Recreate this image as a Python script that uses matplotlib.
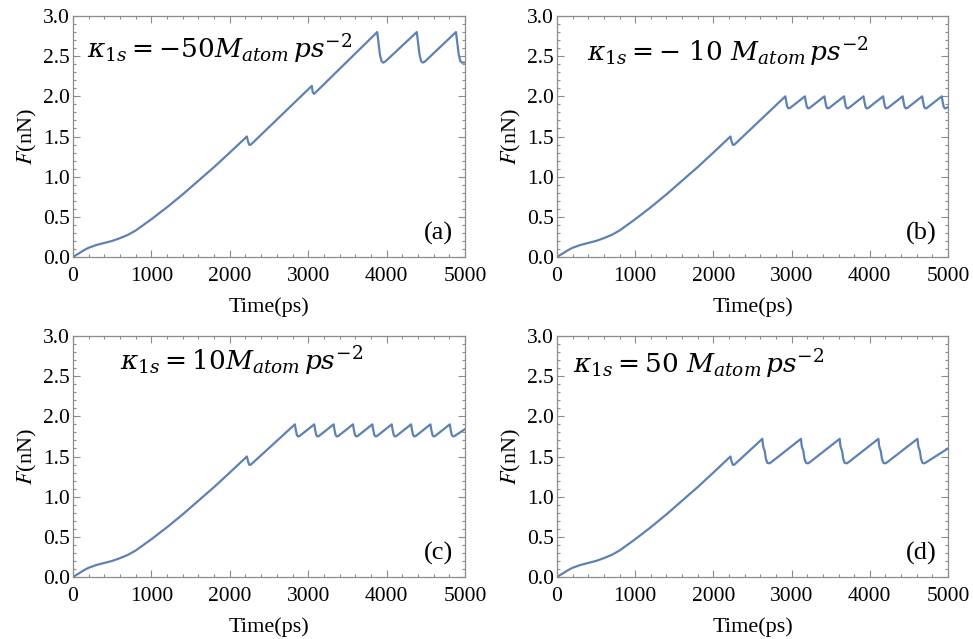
import matplotlib
matplotlib.use("Agg")
import matplotlib.pyplot as plt
from matplotlib.ticker import MultipleLocator

plt.rcParams["font.family"] = ["Liberation Serif", "DejaVu Serif"]
plt.rcParams["mathtext.fontset"] = "stix"

# Shared loading curve up to the first slip event (time in ps, force in nN)
base_t = [0, 50, 100, 150, 200, 300, 400, 500, 600, 700, 800, 900, 1000,
          1100, 1200, 1400, 1600, 1800, 2000, 2218]
base_F = [0.0, 0.03, 0.06, 0.09, 0.115, 0.15, 0.175, 0.20, 0.235, 0.275, 0.33,
          0.40, 0.47, 0.545, 0.62, 0.78, 0.95, 1.12, 1.30, 1.50]

# (a) kappa = -50
a_t = [2235, 2250, 2270, 3046, 3058, 3075, 3880, 3895, 3915, 3935, 3955, 3980,
       4385, 4400, 4420, 4440, 4460, 4485, 4885, 4900, 4920, 4940, 4960, 5000]
a_F = [1.43, 1.395, 1.40, 2.13, 2.05, 2.03, 2.80, 2.68, 2.52, 2.44, 2.42, 2.43,
       2.80, 2.68, 2.52, 2.44, 2.42, 2.43, 2.80, 2.68, 2.52, 2.44, 2.42, 2.42]

# (b) kappa = -10
b_t = [2235, 2250, 2270,
       2920, 2932, 2945, 2960, 2980, 3170, 3182, 3195, 3210, 3230,
       3420, 3432, 3445, 3460, 3480, 3670, 3682, 3695, 3710, 3730,
       3920, 3932, 3945, 3960, 3980, 4170, 4182, 4195, 4210, 4230,
       4420, 4432, 4445, 4460, 4480, 4670, 4682, 4695, 4710, 4730,
       4920, 4932, 4945, 4960, 4980, 5000]
b_F = [1.43, 1.395, 1.40,
       2.00, 1.93, 1.87, 1.85, 1.855, 2.00, 1.93, 1.87, 1.85, 1.855,
       2.00, 1.93, 1.87, 1.85, 1.855, 2.00, 1.93, 1.87, 1.85, 1.855,
       2.00, 1.93, 1.87, 1.85, 1.855, 2.00, 1.93, 1.87, 1.85, 1.855,
       2.00, 1.93, 1.87, 1.85, 1.855, 2.00, 1.93, 1.87, 1.85, 1.855,
       2.00, 1.93, 1.87, 1.85, 1.855, 1.865]

# (c) kappa = 10
c_t = [2235, 2250, 2270,
       2830, 2842, 2855, 2870, 2890, 3077, 3089, 3102, 3117, 3137,
       3324, 3336, 3349, 3364, 3384, 3571, 3583, 3596, 3611, 3631,
       3818, 3830, 3843, 3858, 3878, 4065, 4077, 4090, 4105, 4125,
       4312, 4324, 4337, 4352, 4372, 4559, 4571, 4584, 4599, 4619,
       4806, 4818, 4831, 4846, 4866, 5000]
c_F = [1.43, 1.395, 1.40,
       1.90, 1.83, 1.77, 1.75, 1.755, 1.90, 1.83, 1.77, 1.75, 1.755,
       1.90, 1.83, 1.77, 1.75, 1.755, 1.90, 1.83, 1.77, 1.75, 1.755,
       1.90, 1.83, 1.77, 1.75, 1.755, 1.90, 1.83, 1.77, 1.75, 1.755,
       1.90, 1.83, 1.77, 1.75, 1.755, 1.90, 1.83, 1.77, 1.75, 1.755,
       1.90, 1.83, 1.77, 1.75, 1.755, 1.84]

# (d) kappa = 50
d_t = [2235, 2250, 2270,
       2626, 2634, 2644, 2656, 2671, 2691, 2716, 2741,
       3120, 3128, 3138, 3150, 3165, 3185, 3210, 3235,
       3615, 3623, 3633, 3645, 3660, 3680, 3705, 3730,
       4110, 4118, 4128, 4140, 4155, 4175, 4200, 4225,
       4610, 4618, 4628, 4640, 4655, 4675, 4700, 4725, 5000]
d_F = [1.43, 1.395, 1.40,
       1.72, 1.64, 1.60, 1.57, 1.47, 1.42, 1.415, 1.43,
       1.72, 1.64, 1.60, 1.57, 1.47, 1.42, 1.415, 1.43,
       1.72, 1.64, 1.60, 1.57, 1.47, 1.42, 1.415, 1.43,
       1.72, 1.64, 1.60, 1.57, 1.47, 1.42, 1.415, 1.43,
       1.72, 1.64, 1.60, 1.57, 1.47, 1.42, 1.415, 1.43, 1.60]

panel_tags = ["(a)", "(b)", "(c)", "(d)"]
kappa_labels = [r"$\kappa_{1s}=-50M_{atom}\,ps^{-2}$",
                r"$\kappa_{1s}=-\ 10\ M_{atom}\,ps^{-2}$",
                r"$\kappa_{1s}=10M_{atom}\,ps^{-2}$",
                r"$\kappa_{1s}=50\ M_{atom}\,ps^{-2}$"]
kappa_pos = [(0.035, 0.826), (0.077, 0.81), (0.12, 0.859), (0.041, 0.846)]
series = [(a_t, a_F), (b_t, b_F), (c_t, c_F), (d_t, d_F)]

W, H = 973, 639
fig = plt.figure(figsize=(W / 100, H / 100), dpi=100)
boxes = [(73, 16, 392, 241), (557, 16, 391, 241),
         (73, 336, 392, 241), (557, 336, 391, 241)]

line_color = "#5E81B5"
frame_color = "#8c8c8c"

for i, (x0, y0, w, h) in enumerate(boxes):
    ax = fig.add_axes([x0 / W, 1 - (y0 + h) / H, w / W, h / H])
    t = base_t + series[i][0]
    F = base_F + series[i][1]
    ax.plot(t, F, color=line_color, lw=1.6, solid_joinstyle="round")
    ax.set_xlim(0, 5000)
    ax.set_ylim(0, 3.0)
    ax.xaxis.set_major_locator(MultipleLocator(1000))
    ax.xaxis.set_minor_locator(MultipleLocator(200))
    ax.yaxis.set_major_locator(MultipleLocator(0.5))
    ax.yaxis.set_minor_locator(MultipleLocator(0.1))
    ax.yaxis.set_major_formatter(plt.FuncFormatter(lambda v, p: f"{v:.1f}"))
    ax.tick_params(which="both", direction="in", top=True, right=True,
                   color=frame_color, labelsize=15.5, width=0.8)
    ax.tick_params(which="major", length=5)
    ax.tick_params(axis="x", which="major", pad=7)
    ax.tick_params(axis="y", which="major", pad=2)
    ax.tick_params(which="minor", length=2.5)
    for s in ax.spines.values():
        s.set_color(frame_color)
        s.set_linewidth(0.9)
    ax.set_xlabel("Time(ps)", fontsize=16, labelpad=8)
    ax.set_ylabel(r"$F$(nN)", fontsize=16, labelpad=3)
    ax.text(kappa_pos[i][0], kappa_pos[i][1], kappa_labels[i],
            transform=ax.transAxes, fontsize=19, ha="left", va="baseline",
            math_fontfamily="dejavuserif")
    ax.text(0.97, 0.05, panel_tags[i], transform=ax.transAxes,
            fontsize=19, ha="right", va="bottom")

fig.savefig("out.png", dpi=100)
